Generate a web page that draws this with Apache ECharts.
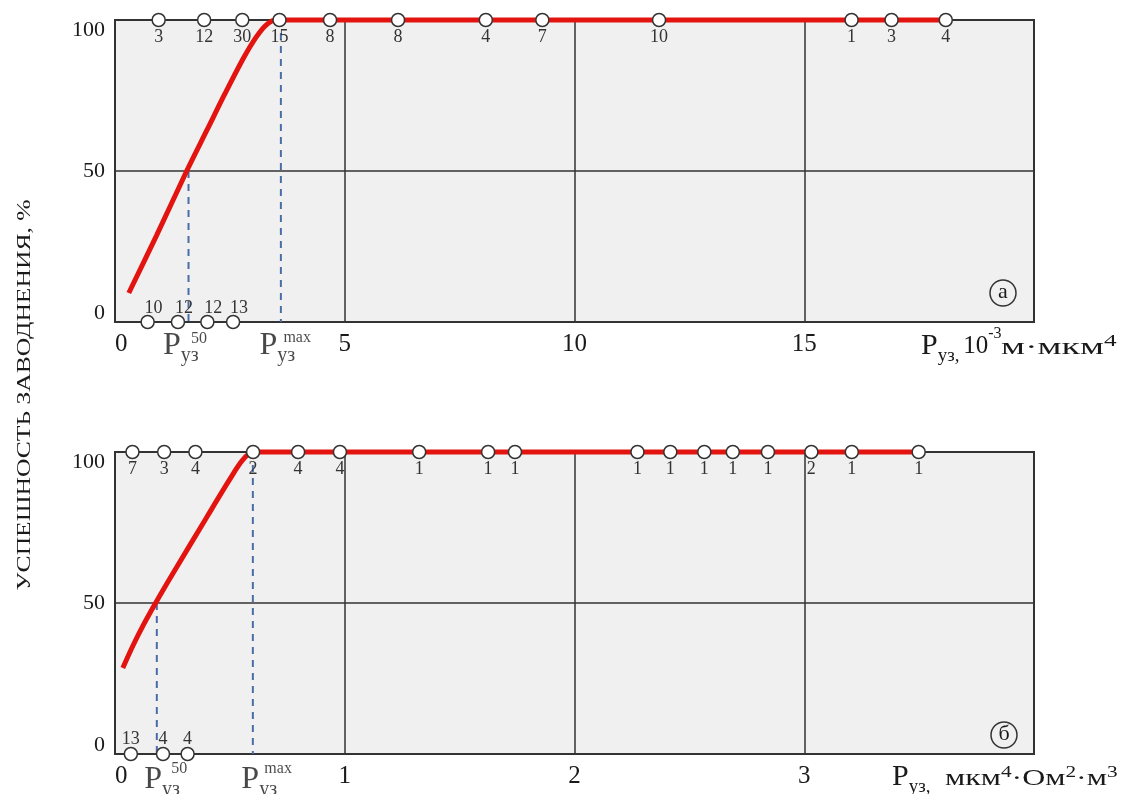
<!DOCTYPE html>
<html><head><meta charset="utf-8">
<script src="https://cdn.jsdelivr.net/npm/echarts@6/dist/echarts.min.js"></script>
<style>html,body{margin:0;padding:0;background:#fff}#c{width:1122px;height:794px}</style>
</head><body><div id="c"></div>
<script>
// ---------- data ----------
// panel (а): P_уз in 10^-3 м·мкм^4
const aTickMax = 20;
const aTopX    = [0.95, 1.94, 2.77, 3.58, 4.68, 6.16, 8.07, 9.30, 11.84, 16.03, 16.90, 18.08];
const aTopN    = [3, 12, 30, 15, 8, 8, 4, 7, 10, 1, 3, 4];
const aBotX    = [0.71, 1.37, 2.01, 2.57];
const aBotN    = [10, 12, 12, 13];
const aCurveX  = [0.30, 0.90, 1.56, 2.00, 2.39, 2.80, 3.08, 3.30, 3.50, 3.75, 18.08];
const aCurveY  = [9.6, 28.5, 50, 63.5, 75.5, 87.5, 94.5, 98.5, 100, 100, 100];
const aP50 = 1.60, aPmax = 3.61;

// panel (б): P_уз in мкм^4·Ом^2·м^3
const bTickMax = 4;
const bTopX    = [0.076, 0.214, 0.350, 0.601, 0.797, 0.979, 1.324, 1.624, 1.741, 2.274, 2.417, 2.565, 2.689, 2.842, 3.031, 3.207, 3.498];
const bTopN    = [7, 3, 4, 2, 4, 4, 1, 1, 1, 1, 1, 1, 1, 1, 2, 1, 1];
const bBotX    = [0.069, 0.209, 0.316];
const bBotN    = [13, 4, 4];
const bCurveX  = [0.034, 0.079, 0.122, 0.173, 0.25, 0.40, 0.50, 0.555, 0.60, 0.65, 3.498];
const bCurveY  = [28.5, 36, 42.5, 49.5, 59.5, 78.5, 91, 97.3, 100, 100, 100];
const bP50 = 0.182, bPmax = 0.60;

const yTicks = [0, 50, 100];

// ---------- style ----------
const FONT = '"Liberation Serif","Times New Roman",serif';
const RED = '#e3140f', BLUE = '#4a6da7', DARK = '#333333', TXT = '#1a1a1a';

const chart = echarts.init(document.getElementById('c'), null, {renderer: 'canvas'});

function grid(top) {
  return {left: 115, top: top, width: 919, height: 302, show: true,
    backgroundColor: '#f0f0f0', borderColor: DARK, borderWidth: 2,
    containLabel: false, outerBoundsMode: 'none'};
}
function xAxis(gi, max, interval) {
  return {type: 'value', gridIndex: gi, min: 0, max: max, interval: interval,
    axisLine: {show: true, lineStyle: {color: DARK, width: 2}},
    axisTick: {show: false},
    splitLine: {show: true, lineStyle: {color: DARK, width: 1.5}},
    axisLabel: {fontFamily: FONT, fontSize: 25, color: TXT, margin: 10,
      alignMinLabel: 'left',
      formatter: v => (v === max ? '' : String(v))}};
}
function yAxis(gi) {
  return {type: 'value', gridIndex: gi, min: yTicks[0], max: yTicks[2], interval: yTicks[1],
    axisLine: {show: true, lineStyle: {color: DARK, width: 2}},
    axisTick: {show: false},
    splitLine: {show: true, lineStyle: {color: DARK, width: 1.5}},
    axisLabel: {fontFamily: FONT, fontSize: 22, color: TXT, margin: 10,
      formatter: v => (v === 100 ? '{a|100}' : v === 0 ? '{b|0}' : '{c|' + v + '}'),
      rich: {a: {fontFamily: FONT, fontSize: 22, color: TXT, padding: [20, 0, 0, 0]},
             b: {fontFamily: FONT, fontSize: 22, color: TXT, padding: [0, 0, 17, 0]},
             c: {fontFamily: FONT, fontSize: 22, color: TXT}}}};
}

function curve(gi, xs, ys) {
  return {type: 'line', xAxisIndex: gi, yAxisIndex: gi, silent: true, clip: false,
    data: xs.map((x, i) => [x, ys[i]]), smooth: 0.3, symbol: 'none', z: 3,
    lineStyle: {color: RED, width: 5}};
}
function dashed(gi, x, yFrom) {
  return {type: 'line', xAxisIndex: gi, yAxisIndex: gi, silent: true, clip: false,
    data: [[x, yFrom], [x, 0]], symbol: 'none', z: 2,
    lineStyle: {color: BLUE, width: 2, type: [7, 6]}};
}
function markers(gi, xs, ns, y, pos, offset) {
  return {type: 'scatter', xAxisIndex: gi, yAxisIndex: gi, silent: true, clip: false, z: 5,
    data: xs.map((x, i) => [x, y, ns[i]]), symbol: 'circle', symbolSize: 13,
    itemStyle: {color: '#ffffff', borderColor: DARK, borderWidth: 1.5, opacity: 1},
    label: {show: true, position: pos, distance: 0, offset: offset,
      fontFamily: FONT, fontSize: 18, color: DARK,
      formatter: p => String(p.data[2])}};
}
const pRich = {
  p: {fontFamily: FONT, fontSize: 32, color: TXT, lineHeight: 40, verticalAlign: 'middle'},
  s: {fontFamily: FONT, fontSize: 20, color: TXT, lineHeight: 22, verticalAlign: 'bottom'},
  u: {fontFamily: FONT, fontSize: 16, color: TXT, lineHeight: 18}
};
function pLabel(gi, x, sup, dxP, dyP, dxS, dyS) {
  return {type: 'scatter', xAxisIndex: gi, yAxisIndex: gi, silent: true, clip: false, z: 6,
    symbol: 'circle', symbolSize: 1, itemStyle: {color: 'rgba(0,0,0,0)'},
    data: [
      {value: [x, 0], label: {show: true, position: [0, 0], align: 'left', verticalAlign: 'middle',
        offset: [dxP, dyP], formatter: '{p|P}{s|уз}', rich: pRich}},
      {value: [x, 0], label: {show: true, position: [0, 0], align: 'left', verticalAlign: 'middle',
        offset: [dxS, dyS], formatter: '{u|' + sup + '}', rich: pRich}}
    ]};
}

const series = [
  dashed(0, aP50, 50), dashed(0, aPmax, 100),
  curve(0, aCurveX, aCurveY),
  markers(0, aTopX, aTopN, 100, 'bottom', [0, 1]),
  markers(0, aBotX, aBotN, 0, 'top', [6, 3]),
  pLabel(0, aP50, '50', -25, 24, 3, 17),
  pLabel(0, aPmax, 'max', -21, 24, 3, 16),

  dashed(1, bP50, 50), dashed(1, bPmax, 100),
  curve(1, bCurveX, bCurveY),
  markers(1, bTopX, bTopN, 100, 'bottom', [0, 1]),
  markers(1, bBotX, bBotN, 0, 'top', [0, 2]),
  pLabel(1, bP50, '50', -12, 26, 15, 15),
  pLabel(1, bPmax, 'max', -11, 26, 12, 15)
];

const tRich = {
  p: {fontFamily: FONT, fontSize: 30, fill: TXT, lineHeight: 40, verticalAlign: 'middle'},
  s: {fontFamily: FONT, fontSize: 19, fill: TXT, lineHeight: 22, verticalAlign: 'bottom'},
  n: {fontFamily: FONT, fontSize: 25, fill: TXT, lineHeight: 28, verticalAlign: 'middle'},
  m: {fontFamily: FONT, fontSize: 24, fill: TXT, lineHeight: 28, verticalAlign: 'middle'},
  u: {fontFamily: FONT, fontSize: 16, fill: TXT, lineHeight: 22, verticalAlign: 'top'}
};
function gText(x, y, text, scaleX) {
  return {type: 'text', x: x, y: y, scaleX: scaleX || 1, silent: true,
    style: {text: text, rich: tRich, align: 'left', verticalAlign: 'middle', fill: TXT,
      font: '24px ' + FONT}};
}
function circ(cx, cy, ch) {
  return [
    {type: 'circle', shape: {cx: cx, cy: cy, r: 13}, silent: true, z: 10,
      style: {fill: 'rgba(0,0,0,0)', stroke: DARK, lineWidth: 1.5}},
    {type: 'text', x: cx, y: cy - 1, silent: true, z: 10,
      style: {text: ch, fill: TXT, font: '22px ' + FONT, align: 'center', verticalAlign: 'middle'}}
  ];
}

const option = {
  backgroundColor: '#ffffff',
  animation: false,
  grid: [grid(20), grid(452)],
  xAxis: [xAxis(0, aTickMax, 5), xAxis(1, bTickMax, 1)],
  yAxis: [yAxis(0), yAxis(1)],
  series: series,
  graphic: [
    {type: 'text', x: 25, y: 395, rotation: Math.PI / 2, scaleX: 1.42, silent: true,
      style: {text: 'УСПЕШНОСТЬ ЗАВОДНЕНИЯ, %', font: '18px ' + FONT, fill: TXT,
        align: 'center', verticalAlign: 'middle'}},
    gText(921, 346, '{p|P}{s|уз,\u2009}{n|10}{u|-3}'),
    gText(1001, 348, '{m|м·мкм}{u|4}', 1.58),
    gText(892, 777, '{p|P}{s|уз,}'),
    gText(945, 779, '{m|мкм}{u|4}{m|·Ом}{u|2}{m|·м}{u|3}', 1.33)
  ].concat(circ(1003, 293, 'а'), circ(1004, 735, 'б'))
};
chart.setOption(option);
</script></body></html>
